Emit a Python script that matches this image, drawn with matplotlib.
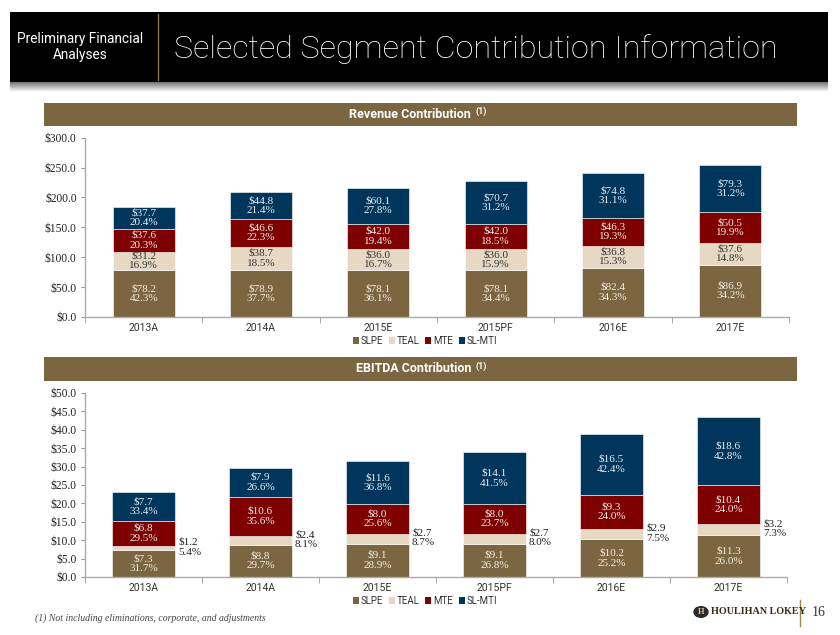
import matplotlib.pyplot as plt
import numpy as np
from matplotlib.patches import Rectangle, Patch, Circle
from matplotlib.lines import Line2D

years = ['2013A', '2014A', '2015E', '2015PF', '2016E', '2017E']
segments = ['SLPE', 'TEAL', 'MTE', 'SL-MTI']
seg_colors = ['#7b6641', '#e6d8c3', '#7f0000', '#00365b']
txt_colors = ['#f3eee4', '#333333', '#f3eee4', '#e8eef4']

# revenue ($mm) and share of total
rev_slpe = [78.2, 78.9, 78.1, 78.1, 82.4, 86.9]
rev_teal = [31.2, 38.7, 36.0, 36.0, 36.8, 37.6]
rev_mte = [37.6, 46.6, 42.0, 42.0, 46.3, 50.5]
rev_slmti = [37.7, 44.8, 60.1, 70.7, 74.8, 79.3]
rev_slpe_pct = [42.3, 37.7, 36.1, 34.4, 34.3, 34.2]
rev_teal_pct = [16.9, 18.5, 16.7, 15.9, 15.3, 14.8]
rev_mte_pct = [20.3, 22.3, 19.4, 18.5, 19.3, 19.9]
rev_slmti_pct = [20.4, 21.4, 27.8, 31.2, 31.1, 31.2]

# EBITDA ($mm) and share of total
ebitda_slpe = [7.3, 8.8, 9.1, 9.1, 10.2, 11.3]
ebitda_teal = [1.2, 2.4, 2.7, 2.7, 2.9, 3.2]
ebitda_mte = [6.8, 10.6, 8.0, 8.0, 9.3, 10.4]
ebitda_slmti = [7.7, 7.9, 11.6, 14.1, 16.5, 18.6]
ebitda_slpe_pct = [31.7, 29.7, 28.9, 26.8, 25.2, 26.0]
ebitda_teal_pct = [5.4, 8.1, 8.7, 8.0, 7.5, 7.3]
ebitda_mte_pct = [29.5, 35.6, 25.6, 23.7, 24.0, 24.0]
ebitda_slmti_pct = [33.4, 26.6, 36.8, 41.5, 42.4, 42.8]

W, H = 840, 635
SANS = ['Roboto', 'DejaVu Sans']
SERIF = ['Liberation Serif', 'DejaVu Serif']


def fx(x):
    return x / W


def fy(y):
    return 1 - y / H


def rect(x0, y0, x1, y1, color):
    fig.add_artist(Rectangle((fx(x0), fy(y1)), (x1 - x0) / W, (y1 - y0) / H,
                             transform=fig.transFigure, color=color, lw=0))


def stacked(ax, vals, pcts, ymax, step, outside_teal=False):
    x = np.arange(len(years))
    bottom = np.zeros(len(years))
    bw = 0.53
    for i, (v, p) in enumerate(zip(vals, pcts)):
        v = np.array(v)
        ax.bar(x, v, bw, bottom=bottom, color=seg_colors[i], edgecolor='white',
               linewidth=0.4, zorder=2)
        for j in range(len(years)):
            lab = '$%.1f\n%.1f%%' % (v[j], p[j])
            if outside_teal and i == 1:
                ax.text(x[j] + bw / 2 + 0.03, bottom[j] + v[j] / 2 + ymax * 0.004, lab,
                        ha='left', va='center', fontsize=8, family=SERIF,
                        color='#222222', linespacing=1.12)
            else:
                ax.text(x[j], bottom[j] + v[j] / 2, lab, ha='center', va='center',
                        fontsize=8, family=SERIF, color=txt_colors[i],
                        linespacing=1.12)
        bottom = bottom + v
    ax.set_xlim(-0.5, len(years) - 0.5)
    ax.set_ylim(0, ymax)
    ax.set_yticks(np.arange(0, ymax + step / 2, step))
    ax.set_yticklabels(['$%.1f' % t for t in np.arange(0, ymax + step / 2, step)],
                       family=SERIF, fontsize=8.3, color='#222222')
    ax.set_xticks(x)
    ax.set_xticklabels(years, family=SANS, fontsize=7.5, color='#333333')
    ax.set_xticks(np.arange(-0.5, len(years)), minor=True)
    ax.tick_params(axis='x', which='major', length=0, pad=4)
    ax.tick_params(axis='x', which='minor', length=4, color='#999999')
    ax.tick_params(axis='y', length=3, color='#999999', pad=3)
    for s in ['top', 'right']:
        ax.spines[s].set_visible(False)
    for s in ['left', 'bottom']:
        ax.spines[s].set_color('#aaaaaa')
        ax.spines[s].set_linewidth(1.0)


def legend(ycenter):
    handles = [Patch(facecolor=c, edgecolor='none', label=s)
               for s, c in zip(segments, seg_colors)]
    fig.legend(handles=handles, loc='center', bbox_to_anchor=(fx(425), fy(ycenter)),
               ncol=4, frameon=False, handlelength=0.6, handleheight=0.6,
               handletextpad=0.2, columnspacing=0.6, borderpad=0.1,
               prop={'family': SANS, 'size': 7}, labelcolor='#333333')


def section_title(y0, y1, text):
    rect(44, y0, 797, y1, '#7b6641')
    yc = (y0 + y1) / 2
    fig.text(fx(471), fy(yc), text, ha='right', va='center', color='white',
             fontsize=9, fontweight='bold', family=SANS)
    fig.text(fx(475), fy(yc - 3), '(1)', ha='left', va='center', color='white',
             fontsize=6.5, fontweight='bold', family=SANS)


fig = plt.figure(figsize=(8.4, 6.35), dpi=100)

# header band
rect(10, 12, 828, 82, 'black')
g = fig.add_axes([fx(10), fy(92), 818 / W, 10 / H])
g.imshow(np.linspace(0.45, 1.0, 40).reshape(-1, 1), cmap='gray', aspect='auto',
         vmin=0, vmax=1)
g.axis('off')
fig.add_artist(Line2D([fx(158), fx(158)], [fy(14), fy(80)], transform=fig.transFigure,
                      color='#8a7550', lw=1))
fig.text(fx(80), fy(47), 'Preliminary Financial\nAnalyses', ha='center', va='center',
         color='white', fontsize=9.8, family=SANS, linespacing=1.2)
fig.text(fx(174), fy(49), 'Selected Segment Contribution Information', ha='left',
         va='center', color='white', fontsize=23.3, family=SANS, fontweight='light')

# revenue chart
section_title(103, 126, 'Revenue Contribution')
ax1 = fig.add_axes([fx(85), fy(317), (789 - 85) / W, (317 - 137.7) / H])
stacked(ax1, [rev_slpe, rev_teal, rev_mte, rev_slmti],
        [rev_slpe_pct, rev_teal_pct, rev_mte_pct, rev_slmti_pct], 300, 50)
legend(341)

# EBITDA chart
section_title(357, 381, 'EBITDA Contribution')
ax2 = fig.add_axes([fx(85), fy(577), (787 - 85) / W, (577 - 393) / H])
stacked(ax2, [ebitda_slpe, ebitda_teal, ebitda_mte, ebitda_slmti],
        [ebitda_slpe_pct, ebitda_teal_pct, ebitda_mte_pct, ebitda_slmti_pct], 50, 5,
        outside_teal=True)
legend(601)

# footer
fig.text(fx(35), fy(618), '(1) Not including eliminations, corporate, and adjustments',
         ha='left', va='center', fontsize=7, style='italic', family=SERIF,
         color='#444444')
fig.add_artist(Circle((fx(701), fy(612)), 7 / W, transform=fig.transFigure,
                      color='#2a2a2a'))
fig.text(fx(701), fy(612), 'H', ha='center', va='center', fontsize=6, color='#d8c8a0',
         family=SERIF, fontweight='bold')
fig.text(fx(711), fy(612), 'HOULIHAN LOKEY', ha='left', va='center', fontsize=7.3,
         family=SERIF, color='#3a2a18', fontweight='bold')
fig.add_artist(Line2D([fx(800), fx(800)], [fy(600), fy(626)], transform=fig.transFigure,
                      color='#a08850', lw=1))
fig.text(fx(812), fy(612), '16', ha='left', va='center', fontsize=10, family=SERIF,
         color='#333333')

fig.savefig('out.png', dpi=100)
